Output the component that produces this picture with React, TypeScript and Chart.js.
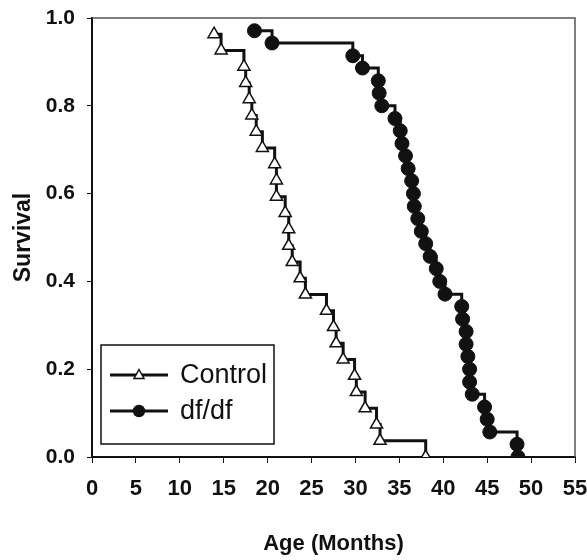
import React, { useEffect, useRef } from "react";
import { Chart, registerables } from "chart.js";

Chart.register(...registerables);

// ---- data ----
const controlMonths = [13.9, 14.7, 17.3, 17.5, 17.9, 18.2, 18.7, 19.4, 20.8, 21.0, 21.0, 22.0, 22.4, 22.4, 22.8, 23.7, 24.3, 26.7, 27.5, 27.8, 28.6, 29.9, 30.1, 31.1, 32.4, 32.8, 38.0];
const controlSurvival = [0.963, 0.926, 0.889, 0.852, 0.815, 0.778, 0.741, 0.704, 0.667, 0.63, 0.593, 0.556, 0.519, 0.481, 0.444, 0.407, 0.37, 0.333, 0.296, 0.259, 0.222, 0.185, 0.148, 0.111, 0.074, 0.037, 0.0];
const dfMonths = [18.5, 20.5, 29.7, 30.8, 32.6, 32.7, 33.0, 34.5, 35.1, 35.3, 35.7, 36.0, 36.4, 36.6, 36.7, 37.1, 37.5, 38.0, 38.5, 39.2, 39.6, 40.2, 42.1, 42.2, 42.6, 42.6, 42.8, 43.0, 43.0, 43.3, 44.7, 45.0, 45.3, 48.4, 48.5];
const dfSurvival = [0.971, 0.943, 0.914, 0.886, 0.857, 0.829, 0.8, 0.771, 0.743, 0.714, 0.686, 0.657, 0.629, 0.6, 0.571, 0.543, 0.514, 0.486, 0.457, 0.429, 0.4, 0.371, 0.343, 0.314, 0.286, 0.257, 0.229, 0.2, 0.171, 0.143, 0.114, 0.086, 0.057, 0.029, 0.0];
const seriesNames = ["Control", "df/df"];
const xTitle = "Age (Months)";
const yTitle = "Survival";
const xMin = 0, xMax = 55, xStep = 5;
const yMin = 0, yMax = 1, yStep = 0.2;

const FONT = "'Liberation Sans', Arial, sans-serif";
const INK = "#111111";

const frameAndLegend = {
  id: "frameAndLegend",
  beforeDatasetsDraw(chart: any) {
    const { ctx, chartArea: a } = chart;
    ctx.save();
    ctx.strokeStyle = "#555";
    ctx.lineWidth = 1.5;
    ctx.beginPath();
    ctx.moveTo(a.left, a.top);
    ctx.lineTo(a.right, a.top);
    ctx.lineTo(a.right, a.bottom);
    ctx.stroke();
    ctx.restore();
  },
  afterDraw(chart: any) {
    const { ctx, chartArea: a } = chart;
    const bx = a.left + 9, by = a.top + 327, bw = 173, bh = 99;
    ctx.save();
    ctx.fillStyle = "#fff";
    ctx.fillRect(bx, by, bw, bh);
    ctx.strokeStyle = INK;
    ctx.lineWidth = 1.5;
    ctx.strokeRect(bx, by, bw, bh);
    chart.data.datasets.forEach((ds: any, i: number) => {
      const y = by + 30 + i * 36;
      const x0 = bx + 9, x1 = bx + 67, mx = (x0 + x1) / 2;
      ctx.strokeStyle = INK;
      ctx.lineWidth = 3;
      ctx.beginPath();
      ctx.moveTo(x0, y);
      ctx.lineTo(x1, y);
      ctx.stroke();
      ctx.fillStyle = ds.pointBackgroundColor;
      ctx.strokeStyle = INK;
      ctx.lineWidth = 1.5;
      ctx.beginPath();
      if (ds.pointStyle === "triangle") {
        const r = 5;
        ctx.moveTo(mx, y - r * 1.1);
        ctx.lineTo(mx + r, y + r * 0.7);
        ctx.lineTo(mx - r, y + r * 0.7);
        ctx.closePath();
      } else {
        ctx.arc(mx, y, 5.5, 0, Math.PI * 2);
      }
      ctx.fill();
      ctx.stroke();
      ctx.fillStyle = INK;
      ctx.font = `27px ${FONT}`;
      ctx.textBaseline = "middle";
      ctx.textAlign = "left";
      ctx.fillText(ds.label, bx + 79, y + 1);
    });
    ctx.restore();
  },
};

export default function App() {
  const ref = useRef<HTMLCanvasElement | null>(null);
  useEffect(() => {
    if (!ref.current) return;
    const chart = new Chart(ref.current, {
      type: "line",
      data: {
        datasets: [
          {
            label: seriesNames[0],
            data: controlMonths.map((m, i) => ({ x: m, y: controlSurvival[i] })),
            stepped: true,
            borderColor: INK,
            borderWidth: 3,
            pointStyle: "triangle",
            pointRadius: 7,
            pointBackgroundColor: "#ffffff",
            pointBorderColor: INK,
            pointBorderWidth: 1.5,
            fill: false,
          },
          {
            label: seriesNames[1],
            data: dfMonths.map((m, i) => ({ x: m, y: dfSurvival[i] })),
            stepped: true,
            borderColor: INK,
            borderWidth: 3,
            pointStyle: "circle",
            pointRadius: 7,
            pointBackgroundColor: INK,
            pointBorderColor: INK,
            pointBorderWidth: 1,
            fill: false,
          },
        ],
      },
      options: {
        responsive: false,
        animation: false,
        layout: { padding: { top: 18, right: 12, left: 0, bottom: 0 } },
        plugins: { legend: { display: false }, tooltip: { enabled: false } },
        scales: {
          x: {
            type: "linear",
            min: xMin,
            max: xMax,
            afterFit: (s: any) => { s.height = 103; s.paddingLeft = 0; s.paddingRight = 0; },
            ticks: { stepSize: xStep, color: INK, font: { family: FONT, size: 22, weight: "bold" }, padding: 13, maxRotation: 0 },
            grid: { display: true, drawOnChartArea: false, drawTicks: true, tickLength: 6, color: INK, lineWidth: 1 },
            border: { display: true, color: INK, width: 2 },
            title: { display: true, text: xTitle, color: INK, font: { family: FONT, size: 22, weight: "bold" }, padding: { top: 0, bottom: 3 } },
          },
          y: {
            type: "linear",
            min: yMin,
            max: yMax,
            afterFit: (s: any) => { s.width = 92; s.paddingTop = 0; s.paddingBottom = 0; },
            ticks: { stepSize: yStep, color: INK, font: { family: FONT, size: 21, weight: "bold" }, padding: 12, callback: (v: any) => Number(v).toFixed(1) },
            grid: { display: true, drawOnChartArea: false, drawTicks: true, tickLength: 5, color: INK, lineWidth: 1 },
            border: { display: true, color: INK, width: 2 },
            title: { display: true, text: yTitle, color: INK, font: { family: FONT, size: 23, weight: "bold" }, padding: { top: 10, bottom: 0 } },
          },
        },
      },
      plugins: [frameAndLegend],
    });
    return () => chart.destroy();
  }, []);
  return (
    <div style={{ position: "fixed", left: 0, top: 0, width: 587, height: 560, background: "#fff" }}>
      <canvas ref={ref} width={587} height={560} style={{ width: 587, height: 560 }} />
    </div>
  );
}
